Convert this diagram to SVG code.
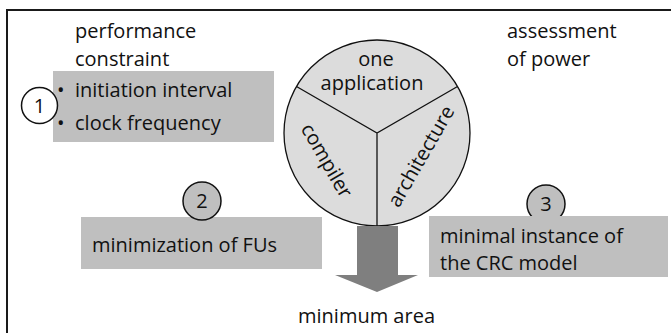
<svg xmlns="http://www.w3.org/2000/svg" width="671" height="333" viewBox="0 0 671 333">
<style>
text{font-family:"Open Sans","Liberation Sans",sans-serif;font-size:20px;fill:#111}
.box{fill:#bfbfbf}
.num{fill:#bfbfbf;stroke:#111;stroke-width:1.5}
.mid{text-anchor:middle}
.div{stroke:#111;stroke-width:1.3;fill:none}
</style>
<rect x="7" y="10" width="720" height="400" fill="#fff" stroke="#1a1a1a" stroke-width="2"/>
<g id="labels">
<text x="75" y="38">performance</text>
<text x="75" y="66">constraint</text>
<text x="507" y="38">assessment</text>
<text x="507" y="66">of power</text>
</g>
<g id="box1">
<rect class="box" x="53" y="71" width="221" height="71"/>
<text x="57" y="97">•</text><text x="75" y="97">initiation interval</text>
<text x="57" y="130">•</text><text x="75" y="130">clock frequency</text>
</g>
<g id="num1">
<circle cx="39.5" cy="105.5" r="18" fill="#fff" stroke="#111" stroke-width="1.5"/>
<text class="mid" x="39.5" y="113">1</text>
</g>
<g id="box2">
<rect class="box" x="81" y="217" width="241" height="52"/>
<text x="92" y="252">minimization of FUs</text>
</g>
<g id="num2">
<circle class="num" cx="202" cy="201" r="19"/>
<text class="mid" x="202" y="208">2</text>
</g>
<g id="num3">
<circle class="num" cx="546" cy="204" r="19"/>
<text class="mid" x="546" y="211">3</text>
</g>
<g id="box3">
<rect class="box" x="429" y="216" width="239" height="61"/>
<text x="440" y="243">minimal instance of</text>
<text x="440" y="270">the CRC model</text>
</g>
<g id="wheel">
<circle cx="377" cy="133" r="93" fill="#dcdcdc" stroke="#111" stroke-width="1.3"/>
<path class="div" d="M296.5 86.5 L377 133 L457.5 86.5 M377 133 V226"/>
<text class="mid" x="376" y="66">one</text>
<text class="mid" x="372" y="90">application</text>
<text class="mid" transform="translate(326 161) rotate(60)" y="6">compiler</text>
<text class="mid" transform="translate(421.7 156.7) rotate(-60)" y="6">architecture</text>
</g>
<g id="connectors">
<polygon points="357,226 398,226 398,275 418,275 377,292 335,275 357,275" fill="#7f7f7f"/>
</g>
<g id="result">
<text x="298" y="323">minimum area</text>
</g>
</svg>
